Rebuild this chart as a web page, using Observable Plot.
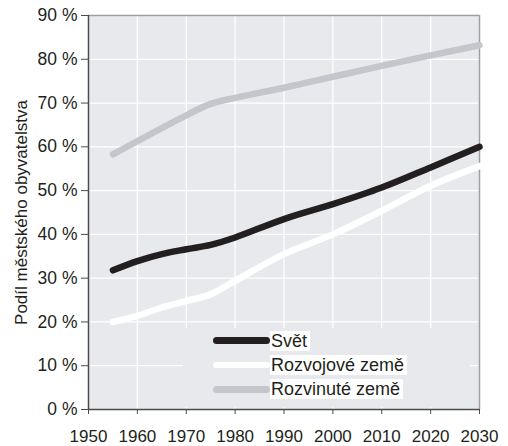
<!DOCTYPE html>
<html>
<head>
<meta charset="utf-8">
<script src="https://cdn.jsdelivr.net/npm/d3@7"></script>
<script src="https://cdn.jsdelivr.net/npm/@observablehq/plot@0.6"></script>
<style>
  html, body { margin: 0; padding: 0; background: #ffffff; }
  #wrap { position: relative; width: 508px; height: 446px; font-family: "Liberation Sans", Arial, sans-serif; color: #231f20; }
  #legend { position: absolute; left: 183px; top: 328px; width: 287px; height: 79px; background: #e8e9ec; }
  .row { position: absolute; left: 30px; height: 20px; display: flex; align-items: center; }
  .swatch { width: 57px; height: 6.5px; border-radius: 3.5px; }
  .lab { background: #ffffff; font-size: 18px; line-height: 20px; padding: 0 3px 0 1px; white-space: nowrap; }
</style>
</head>
<body>
<div id="wrap"></div>
<script>
// ---- data ----
const years = [1955, 1960, 1965, 1970, 1975, 1980, 1990, 2000, 2010, 2020, 2030];
const world = [31.8, 33.9, 35.5, 36.6, 37.6, 39.3, 43.5, 46.9, 50.7, 55.3, 60.0];
const developing = [20.0, 21.4, 23.3, 24.8, 26.3, 29.4, 35.5, 40.0, 45.4, 51.1, 55.6];
const developed = [58.3, 61.3, 64.3, 67.2, 69.8, 71.2, 73.5, 76.0, 78.5, 80.9, 83.2];
const seriesNames = ["Svět", "Rozvojové země", "Rozvinuté země"];
const seriesColors = ["#231f20", "#ffffff", "#c4c6cc"];
const xTicks = [1950, 1960, 1970, 1980, 1990, 2000, 2010, 2020, 2030];
const yTicks = [0, 10, 20, 30, 40, 50, 60, 70, 80, 90];
const yLabel = "Podíl městského obyvatelstva";

const seriesValues = [world, developing, developed];
const rows = [];
seriesNames.forEach((name, i) => {
  years.forEach((yr, j) => rows.push({ series: name, year: yr, value: seriesValues[i][j] }));
});
const drawOrder = [2, 1, 0];

const xDomain = [xTicks[0], xTicks[xTicks.length - 1]];
const yDomain = [yTicks[0], yTicks[yTicks.length - 1]];

const chart = Plot.plot({
  width: 508,
  height: 446,
  marginLeft: 88,
  marginTop: 15,
  marginRight: 29,
  marginBottom: 37,
  style: { fontFamily: "'Liberation Sans', Arial, sans-serif", fontSize: "17px", color: "#231f20", background: "transparent", overflow: "visible" },
  x: { domain: xDomain },
  y: { domain: yDomain },
  marks: [
    Plot.frame({ fill: "#e8e9ec", stroke: "none" }),
    Plot.gridX({ ticks: xTicks, stroke: "#ffffff", strokeOpacity: 1, strokeWidth: 1.3 }),
    Plot.gridY({ ticks: yTicks, stroke: "#ffffff", strokeOpacity: 1, strokeWidth: 1.3 }),
    Plot.ruleY([yDomain[1]], { stroke: "#9ba0a7", strokeWidth: 1.5 }),
    Plot.ruleX([xDomain[1]], { stroke: "#9ba0a7", strokeWidth: 1.5 }),
    Plot.ruleX([xDomain[0]], { stroke: "#4a4a4a", strokeWidth: 1.5 }),
    Plot.ruleY([yDomain[0]], { stroke: "#4a4a4a", strokeWidth: 1.5 }),
    Plot.axisX({ ticks: xTicks, tickFormat: "d", tickSize: 5, tickPadding: 15, fontSize: 17, label: null, stroke: "#4a4a4a" }),
    Plot.axisY({ ticks: yTicks, tickFormat: d => d + " %", tickSize: 7, tickPadding: 4, fontSize: 17.5, label: null, stroke: "#4a4a4a" }),
    Plot.text([yLabel], { frameAnchor: "left", textAnchor: "middle", rotate: -90, dx: -67, text: d => d, fontSize: 17, fill: "#231f20" }),
    ...drawOrder.map(i => Plot.line(rows.filter(r => r.series === seriesNames[i]), {
      x: "year", y: "value", stroke: seriesColors[i], strokeWidth: 6.5,
      strokeLinecap: "round", strokeLinejoin: "round", curve: "catmull-rom"
    }))
  ]
});

const wrap = document.getElementById("wrap");
wrap.appendChild(chart);

const legend = document.createElement("div");
legend.id = "legend";
seriesNames.forEach((name, i) => {
  const row = document.createElement("div");
  row.className = "row";
  row.style.top = (2.7 + i * 24.3) + "px";
  const sw = document.createElement("div");
  sw.className = "swatch";
  sw.style.background = seriesColors[i];
  const lab = document.createElement("span");
  lab.className = "lab";
  lab.textContent = name;
  row.appendChild(sw);
  row.appendChild(lab);
  legend.appendChild(row);
});
wrap.appendChild(legend);
</script>
</body>
</html>
